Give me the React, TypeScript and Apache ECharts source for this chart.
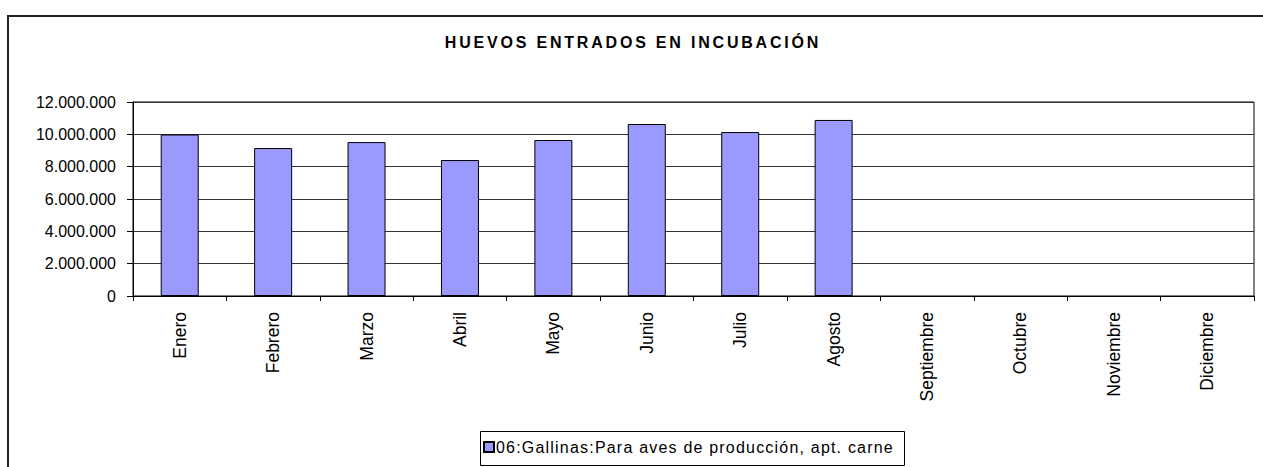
import React, { useEffect, useRef } from "react";
import * as echarts from "echarts";

const TITLE = "HUEVOS ENTRADOS EN INCUBACIÓN";
const SERIES_NAME = "06:Gallinas:Para aves de producción, apt. carne";
const MONTHS = [
  "Enero", "Febrero", "Marzo", "Abril", "Mayo", "Junio",
  "Julio", "Agosto", "Septiembre", "Octubre", "Noviembre", "Diciembre",
];
const VALUES: (number | null)[] = [
  9990000, 9150000, 9520000, 8410000, 9650000, 10640000,
  10140000, 10890000, null, null, null, null,
];
const Y_MIN = 0;
const Y_MAX = 12000000;
const Y_STEP = 2000000;

const FONT = "'Liberation Sans', Arial, sans-serif";

function fmt(v: number): string {
  return String(Math.round(v)).replace(/\B(?=(\d{3})+(?!\d))/g, ".");
}

export default function App() {
  const ref = useRef<HTMLDivElement>(null);
  useEffect(() => {
    if (!ref.current) return;
    const chart = echarts.init(ref.current, null, { renderer: "svg" });
    chart.setOption({
      animation: false,
      backgroundColor: "#ffffff",
      textStyle: { fontFamily: FONT },
      grid: {
        left: 133,
        right: 9,
        top: 102,
        bottom: 171,
        show: true,
        borderColor: "#000",
        borderWidth: 1,
        backgroundColor: "transparent",
      },
      graphic: [
        {
          type: "rect",
          shape: { x: 8, y: 16, width: 1400, height: 600 },
          style: { fill: "transparent", stroke: "#222", lineWidth: 2 },
          silent: true,
          z: -1,
        },
        {
          type: "text",
          x: 633,
          y: 42,
          style: {
            text: TITLE,
            font: `bold 16px ${FONT}`,
            fill: "#000",
            textAlign: "center",
            textVerticalAlign: "middle",
          },
          silent: true,
        },
        {
          type: "rect",
          shape: { x: 480.5, y: 431.5, width: 424, height: 34 },
          style: { fill: "#fff", stroke: "#000", lineWidth: 1 },
          silent: true,
          z: 0,
        },
      ],
      legend: {
        show: true,
        left: 483,
        top: 439,
        itemWidth: 10,
        itemHeight: 10,
        itemGap: 4,
        padding: 0,
        icon: "rect",
        z: 10,
        textStyle: { fontSize: 16, color: "#000", fontFamily: FONT, padding: [0, 0, 0, -3] },
        data: [SERIES_NAME],
      },
      xAxis: {
        type: "category",
        data: MONTHS,
        boundaryGap: true,
        axisLine: { show: true, lineStyle: { color: "#000", width: 1 } },
        axisTick: { show: true, length: 5, lineStyle: { color: "#000" } },
        axisLabel: {
          rotate: 90,
          margin: 16,
          fontSize: 17.5,
          color: "#000",
          fontFamily: FONT,
          interval: 0,
        },
        splitLine: { show: false },
      },
      yAxis: {
        type: "value",
        min: Y_MIN,
        max: Y_MAX,
        interval: Y_STEP,
        axisLine: { show: true, lineStyle: { color: "#000", width: 1 } },
        axisTick: { show: true, length: 6, lineStyle: { color: "#000" } },
        axisLabel: {
          margin: 17,
          fontSize: 16,
          color: "#000",
          fontFamily: FONT,
          formatter: (v: number) => fmt(v),
        },
        splitLine: { show: true, lineStyle: { color: "#333", width: 1 } },
      },
      series: [
        {
          name: SERIES_NAME,
          type: "bar",
          data: VALUES,
          barWidth: 38,
          itemStyle: { color: "#9999FF", borderColor: "#000", borderWidth: 1 },
        },
      ],
    });
    const applySpacing = () => {
      const texts = ref.current?.querySelectorAll("text") || [];
      texts.forEach((t) => {
        const s = t.textContent || "";
        if (s === TITLE) (t as SVGElement).style.letterSpacing = "2.8px";
        if (s === SERIES_NAME) (t as SVGElement).style.letterSpacing = "1.2px";
      });
    };
    applySpacing();
    chart.on("finished", applySpacing);
    return () => chart.dispose();
  }, []);
  return (
    <div
      ref={ref}
      style={{ position: "fixed", left: 0, top: 0, width: 1263, height: 467 }}
    />
  );
}
